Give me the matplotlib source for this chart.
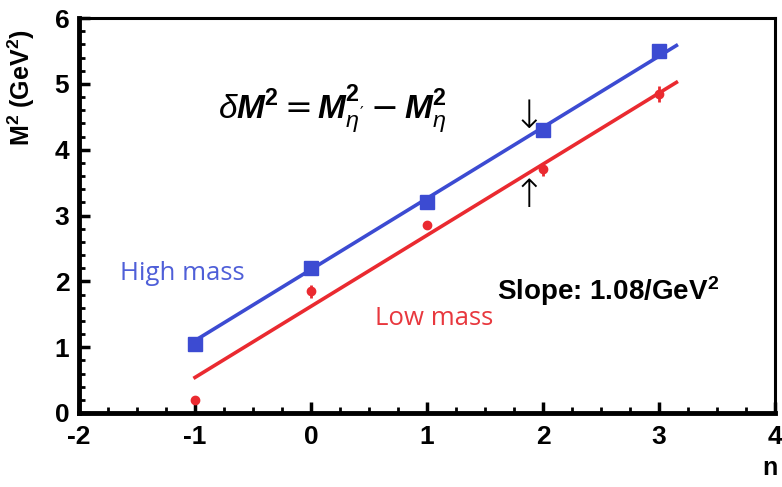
import numpy as np
import matplotlib
matplotlib.use("Agg")
import matplotlib.pyplot as plt
from matplotlib.ticker import MultipleLocator

# data
n_values = [-1, 0, 1, 2, 3]
high_mass = [1.05, 2.2, 3.2, 4.3, 5.5]
low_mass = [0.2, 1.85, 2.85, 3.7, 4.85]
low_mass_err = [0.06, 0.1, 0.06, 0.1, 0.12]

slope = 1.08
high_intercept = 2.18
low_intercept = 1.62
fit_range = [-1.0, 3.15]

blue = "#3c4bd2"
red = "#ea2a30"

plt.rcParams["font.family"] = ["Liberation Sans", "DejaVu Sans"]
plt.rcParams["axes.unicode_minus"] = False
plt.rcParams["mathtext.fontset"] = "custom"
plt.rcParams["mathtext.bf"] = "Liberation Sans:bold:italic"
plt.rcParams["mathtext.sf"] = "Liberation Sans:bold"
plt.rcParams["mathtext.it"] = "Liberation Sans:italic"

fig = plt.figure(figsize=(7.82, 4.87), dpi=100)
ax = fig.add_axes([79 / 782, 1 - 413 / 487, (775 - 79) / 782, (413 - 18) / 487])

xfit = np.array(fit_range)
ax.plot(xfit, slope * xfit + high_intercept, color=blue, lw=2.6, zorder=2)
ax.plot(xfit, slope * xfit + low_intercept, color=red, lw=2.6, zorder=2)

ax.plot(n_values, high_mass, "s", color=blue, ms=10.5, zorder=3)
ax.errorbar(n_values, low_mass, yerr=low_mass_err, fmt="o", color=red,
            ms=6, elinewidth=2, capsize=0, zorder=3)

ax.set_xlim(-2, 4)
ax.set_ylim(0, 6)
ax.xaxis.set_major_locator(MultipleLocator(1))
ax.xaxis.set_minor_locator(MultipleLocator(0.25))
ax.yaxis.set_major_locator(MultipleLocator(1))
ax.yaxis.set_minor_locator(MultipleLocator(0.2))
ax.tick_params(which="both", direction="in", top=False, right=False)
ax.tick_params(which="major", length=8, width=2.5, labelsize=19)
ax.tick_params(axis="x", which="major", pad=9)
ax.tick_params(axis="y", which="major", pad=7)
ax.tick_params(which="minor", length=4, width=2)
for lab in ax.get_xticklabels() + ax.get_yticklabels():
    lab.set_fontweight("bold")

for side in ["left", "bottom"]:
    ax.spines[side].set_linewidth(3.5)
for side in ["top", "right"]:
    ax.spines[side].set_linewidth(2.2)

fig.text(0.027, 0.82, r"M$^{\mathsf{2}}$ (GeV$^{\mathsf{2}}$)", rotation=90,
         ha="center", va="center", fontsize=18, fontweight="bold")
fig.text(0.985, 0.04, "n", ha="center", va="center", fontsize=18, fontweight="bold")

ax.text(-0.80, 4.6,
        r"$\delta\mathbf{M}^{\mathsf{2}} = \mathbf{M}^{\mathsf{2}}_{\eta^{\prime}}"
        r" - \mathbf{M}^{\mathsf{2}}_{\eta}$",
        fontsize=24, ha="left", va="center")
ax.text(1.88, 4.5, "\u2193", fontsize=28, ha="center", va="center",
        family="DejaVu Sans", fontweight="light")
ax.text(1.88, 3.3, "\u2191", fontsize=28, ha="center", va="center",
        family="DejaVu Sans", fontweight="light")

ax.text(-1.65, 2.12, "High mass", color="#4f5fd8", fontsize=18.5, ha="left",
        va="center", family="Open Sans")
ax.text(0.55, 1.43, "Low mass", color="#e8383e", fontsize=18.5, ha="left",
        va="center", family="Open Sans")
ax.text(1.6, 1.85, r"Slope: 1.08/GeV$^{\mathsf{2}}$", fontsize=20, fontweight="bold",
        ha="left", va="center")

fig.savefig("out.png", dpi=100)
